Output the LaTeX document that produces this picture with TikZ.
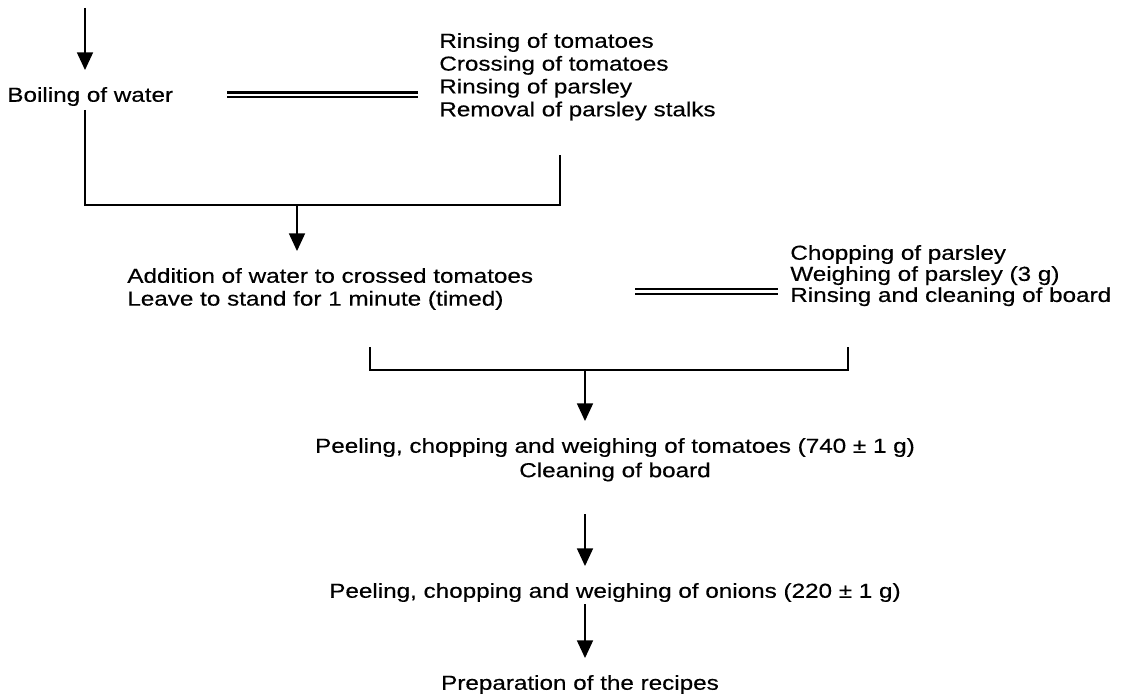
\documentclass[tikz,border=0pt]{standalone}
\usepackage{fontspec}
\setmainfont{Liberation Sans}[FakeStretch=1.2, FakeBold=0.4]
\usetikzlibrary{arrows.meta}

\begin{document}
\begin{tikzpicture}[
  txt/.style={inner xsep=0pt, inner ysep=1pt, font=\fontsize{11.5}{13.9}\selectfont},
  lst/.style={txt, align=left, anchor=north west},
  mid/.style={txt, align=center, anchor=north},
  line/.style={line width=1.1pt},
  arr/.style={line, -{Triangle[width=9pt,length=10pt]}, shorten >=8.5pt},
  dbl/.style={line width=1.2pt, double, double distance=1.4pt},
]
\useasboundingbox (0,0) rectangle (22.42,13.90);

% --- Stage 1: boiling and washing ---
\coordinate (in) at (1.70,13.74);
\node[lst] (boil) at (0.14,12.20) {Boiling of water};
\draw[arr] (in) -- (in |- boil.north);

\node[lst, font=\fontsize{11.5}{13}\selectfont] (rinse) at (8.78,13.28) {Rinsing of tomatoes\\
  Crossing of tomatoes\\
  Rinsing of parsley\\
  Removal of parsley stalks};
\draw[dbl, shorten <=30.6pt, shorten >=11.9pt] ([yshift=1pt]boil.east) -- ([yshift=1pt]boil.east -| rinse.west);

% Joining bracket
\coordinate (b1l) at (1.70,11.70);
\coordinate (b1r) at (11.20,10.80);
\coordinate (j1) at (5.94,9.80);
\draw[line] (b1l) |- (j1) -| (b1r);

% --- Stage 2: scalding and parsley ---
\node[lst, font=\fontsize{11.5}{13}\selectfont] (add) at (2.54,8.58) {Addition of water to crossed tomatoes\\
  Leave to stand for 1 minute (timed)};
\draw[arr] (j1) -- (j1 |- add.north);

\node[lst, font=\fontsize{11.5}{12}\selectfont] (chop) at (15.80,9.04) {Chopping of parsley\\
  Weighing of parsley (3 g)\\
  Rinsing and cleaning of board};
\draw[dbl, shorten <=57.8pt, shorten >=6.8pt] ([yshift=-1.5pt]add.east) -- ([yshift=-1.5pt]add.east -| chop.west);

% Joining bracket
\coordinate (b2l) at (7.40,6.96);
\coordinate (b2r) at (16.96,6.96);
\coordinate (j2) at (11.70,6.50);
\draw[line] (b2l) |- (j2) -| (b2r);

% --- Stage 3: tomatoes, onions, recipes ---
\node[mid] (peeltom) at (12.30,5.18) {Peeling, chopping and weighing of tomatoes (740 ± 1 g)\\
  Cleaning of board};
\draw[arr] (j2) -- (j2 |- peeltom.north);

\node[mid] (peelon) at (12.30,2.28) {Peeling, chopping and weighing of onions (220 ± 1 g)};
\draw[arr, shorten <=17.5pt] (peeltom.south -| j2) -- (j2 |- peelon.north);

\node[mid] (recipes) at (11.60,0.44) {Preparation of the recipes};
\draw[arr] (peelon.south -| j2) -- (j2 |- recipes.north);

\end{tikzpicture}
\end{document}
